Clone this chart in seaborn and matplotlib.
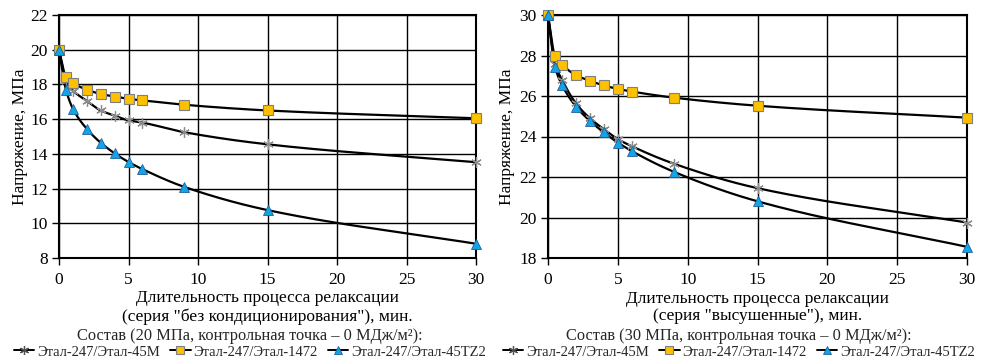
import numpy as np
import pandas as pd
import matplotlib
matplotlib.use("Agg")
import matplotlib.pyplot as plt
from matplotlib.lines import Line2D
import seaborn as sns

# ---- data ----
time_min = [0, 0.5, 1, 2, 3, 4, 5, 6, 9, 15, 30]
series_names = ["Этал-247/Этал-45М", "Этал-247/Этал-1472", "Этал-247/Этал-45TZ2"]

left_45M = [20, 18.2, 17.65, 17.05, 16.5, 16.2, 15.93, 15.8, 15.25, 14.55, 13.52]
left_1472 = [20, 18.44, 18.08, 17.7, 17.45, 17.3, 17.17, 17.08, 16.83, 16.5, 16.05]
left_45TZ2 = [20, 17.7, 16.6, 15.44, 14.64, 14.03, 13.53, 13.12, 12.1, 10.76, 8.82]

right_45M = [30, 27.6, 26.8, 25.64, 24.9, 24.36, 23.87, 23.52, 22.66, 21.45, 19.75]
right_1472 = [30, 27.98, 27.55, 27.03, 26.75, 26.52, 26.35, 26.22, 25.92, 25.52, 24.93]
right_45TZ2 = [30, 27.45, 26.55, 25.48, 24.77, 24.2, 23.7, 23.28, 22.26, 20.8, 18.55]

left_ylim = (8, 22)
right_ylim = (18, 30)
left_yticks = [8, 10, 12, 14, 16, 18, 20, 22]
right_yticks = [18, 20, 22, 24, 26, 28, 30]
xticks = [0, 5, 10, 15, 20, 25, 30]

left_xlabel = "Длительность процесса релаксации\n(серия \"без кондиционирования\"), мин."
right_xlabel = "Длительность процесса релаксации\n(серия \"высушенные\"), мин."
left_legend_title = "Состав (20 МПа, контрольная точка – 0 МДж/м²):"
right_legend_title = "Состав (30 МПа, контрольная точка – 0 МДж/м²):"
ylabel = "Напряжение, МПа"

# ---- style ----
sns.set_theme(style="white")
plt.rcParams["font.family"] = ["Liberation Serif", "DejaVu Serif"]
FS_TICK = 12.5
FS_LAB = 12.5
FS_TITLE = 11.8
FS_LEG = 10.5

ORANGE = "#FFC000"
BLUE = "#12A5E6"
GRAY = "#8C8C8C"

styles = [
    dict(marker=(6, 2, 0), color=GRAY, mec=GRAY, ms=7.5, mew=0.9),
    dict(marker="s", color=ORANGE, mec="#7F7F7F", ms=7.2, mew=0.8),
    dict(marker="^", color=BLUE, mec="#1F5F9F", ms=7.2, mew=0.6),
]


def pchip(x, y, xn):
    x = np.asarray(x, float)
    y = np.asarray(y, float)
    h = np.diff(x)
    d = np.diff(y) / h
    n = len(x)
    m = np.zeros(n)
    for k in range(1, n - 1):
        if d[k - 1] * d[k] > 0:
            w1 = 2 * h[k] + h[k - 1]
            w2 = h[k] + 2 * h[k - 1]
            m[k] = (w1 + w2) / (w1 / d[k - 1] + w2 / d[k])
    m[0] = d[0]
    m[-1] = d[-1]
    idx = np.clip(np.searchsorted(x, xn) - 1, 0, n - 2)
    t = (xn - x[idx]) / h[idx]
    h00 = 2 * t**3 - 3 * t**2 + 1
    h10 = t**3 - 2 * t**2 + t
    h01 = -2 * t**3 + 3 * t**2
    h11 = t**3 - t**2
    return h00 * y[idx] + h10 * h[idx] * m[idx] + h01 * y[idx + 1] + h11 * h[idx] * m[idx + 1]


fig = plt.figure(figsize=(9.81, 3.60), dpi=100)
W, H = 981, 360
axL = fig.add_axes([59 / W, 1 - 258 / H, (476 - 59) / W, (258 - 15) / H])
axR = fig.add_axes([548 / W, 1 - 258 / H, (967 - 548) / W, (258 - 15) / H])


def draw(ax, data, ylim, yticks, xlabel, legend_title, center_x, ylab_off):
    df = pd.DataFrame({"t": time_min * 3,
                       "v": sum(data, []),
                       "s": sum([[n] * len(time_min) for n in series_names], [])})
    ax.grid(True, color="black", lw=1.0)
    ax.set_axisbelow(True)
    xs = np.linspace(0, 30, 1500)
    for name, st in zip(series_names, styles):
        sub = df[df["s"] == name]
        ax.plot(xs, pchip(sub["t"].values, sub["v"].values, xs), color="black", lw=1.6, zorder=3)
    for name, st in zip(series_names, styles):
        sub = df[df["s"] == name]
        sns.lineplot(data=sub, x="t", y="v", ax=ax, linestyle="", marker=st["marker"],
                     color=st["color"], markeredgecolor=st["mec"], markersize=st["ms"],
                     markeredgewidth=st["mew"], zorder=4, legend=False, clip_on=False)
    ax.set_xlim(0, 30)
    ax.set_ylim(*ylim)
    ax.set_xticks(xticks)
    ax.set_yticks(yticks)
    ax.tick_params(axis="both", labelsize=FS_TICK, length=5, width=1, color="black",
                   direction="out", bottom=True, left=True, pad=3, labelcolor="black")
    ax.tick_params(axis="x", pad=5)
    for sp in ax.spines.values():
        sp.set_color("black")
        sp.set_linewidth(1.5)
    ax.set_xlabel(xlabel, fontsize=FS_LAB, color="black", linespacing=1.15, va="center")
    ax.xaxis.set_label_coords(0.5, -(307.5 - 258) / 243)
    ax.set_ylabel(ylabel, fontsize=FS_LAB, color="black", va="center")
    ax.yaxis.set_label_coords(-ylab_off / 418, 0.5)
    fig.text(center_x, 1 - 336 / H, legend_title, ha="center", va="center", fontsize=FS_TITLE)
    handles = [Line2D([], [], color="black", lw=1.4, marker=st["marker"], markerfacecolor=st["color"],
                      markeredgecolor=st["mec"] if i else "#505050", markersize=st["ms"] - 1,
                      markeredgewidth=st["mew"])
               for i, st in enumerate(styles)]
    fig.legend(handles, series_names, loc="center", bbox_to_anchor=(center_x, 1 - 352 / H),
               ncol=3, frameon=False, fontsize=FS_LEG, handlelength=1.4, handletextpad=0.2,
               columnspacing=0.7, borderaxespad=0, borderpad=0)


draw(axL, [left_45M, left_1472, left_45TZ2], left_ylim, left_yticks, left_xlabel, left_legend_title, 250 / W, 39)
draw(axR, [right_45M, right_1472, right_45TZ2], right_ylim, right_yticks, right_xlabel, right_legend_title, 739 / W, 41)

fig.savefig("out.png", dpi=100)
